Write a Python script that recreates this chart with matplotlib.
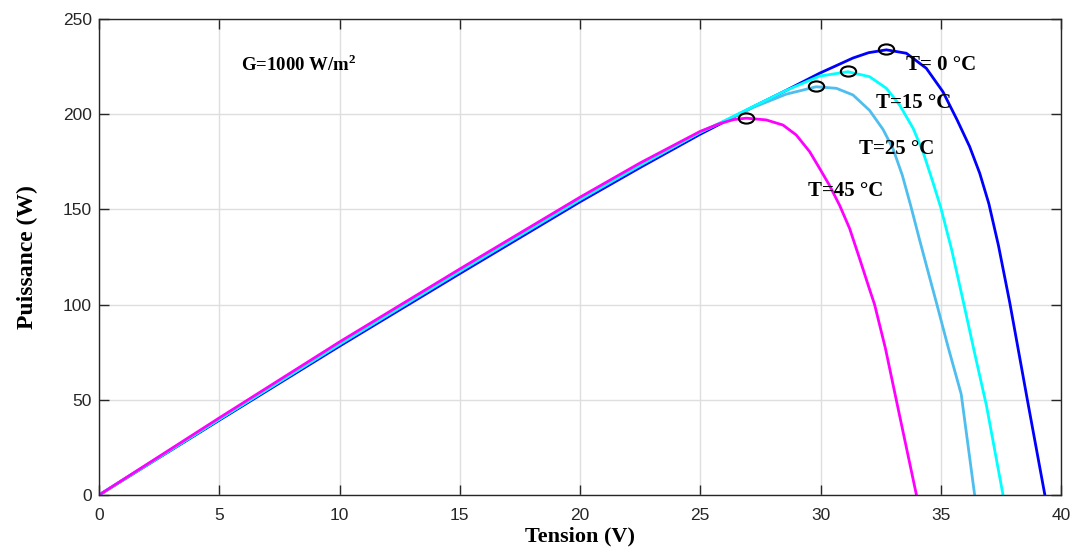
import matplotlib
matplotlib.use("Agg")
import numpy as np
from matplotlib import pyplot as plt
from matplotlib.path import Path

# P-V curves (V in volts, P in watts)
v_t0 = [0, 5, 10, 15, 20, 22.5, 25, 26, 27.19, 28.57, 29.96, 31.35, 32.0, 32.74, 33.57, 34.4, 35.09,
        35.68, 36.2, 36.62, 37.0, 37.4, 37.87, 38.63, 39.33]
p_t0 = [0, 39.3, 78.2, 116.3, 154, 172, 189.5, 196, 203.8, 212.5, 221.5, 229.5, 232.3, 233.8, 232, 224.1, 211.8,
        197, 183, 169, 153, 131, 101, 48, 0]

v_t15 = [0, 5, 10, 15, 20, 22.5, 25, 26, 27.19, 28.57, 29.96, 31.14, 32.04, 32.74, 33.29, 33.85,
         34.26, 34.68, 35.0, 35.45, 35.93, 36.4, 36.9, 37.59]
p_t15 = [0, 39.8, 79.2, 117.5, 155.2, 173.2, 190.5, 196.5, 204, 212.5, 220, 222.3, 219.7, 213.6, 204.8, 192.6,
         180.3, 164, 151, 129, 102, 75, 47, 0]

v_t25 = [0, 5, 10, 15, 20, 22.5, 25, 26, 27.19, 28.57, 29.82, 30.66, 31.35, 32.04, 32.6, 33.01,
         33.4, 33.75, 34.12, 34.5, 34.82, 35.3, 35.85, 36.41]
p_t25 = [0, 39.8, 79.2, 117.5, 155.2, 173.2, 190.5, 196.3, 203.5, 210.5, 214.4, 213.6, 210.1, 202, 192, 182,
         168, 152, 134, 116, 101, 78, 53, 0]

v_t45 = [0, 5, 10, 15, 20, 22.5, 25, 25.8, 26.4, 26.91, 27.74, 28.44, 28.99, 29.55, 29.96, 30.38, 30.8,
         31.21, 31.63, 32.04, 32.25, 32.7, 33.15, 33.99]
p_t45 = [0, 40.5, 80.4, 118.7, 156.4, 174.4, 191, 195, 197.2, 197.9, 197, 194.3, 189.1, 180.3, 171.6, 162.5, 152,
         140, 124, 108, 100, 77, 50, 0]

# maximum power points
mpp_v = [32.74, 31.14, 29.82, 26.91]
mpp_p = [234.2, 222.5, 214.6, 197.8]

labels = ["T= 0 °C", "T=15 °C", "T=25 °C", "T=45 °C"]
label_v = [33.55, 32.3, 31.6, 29.5]
label_p = [226, 206, 181.5, 159.5]

serif = "Liberation Serif"
plt.rcParams["font.family"] = "Liberation Sans"
plt.rcParams["mathtext.fontset"] = "custom"
plt.rcParams["mathtext.bf"] = "Liberation Serif:bold"
plt.rcParams["mathtext.rm"] = "Liberation Serif:bold"

fig = plt.figure(figsize=(10.81, 5.47), dpi=100)
ax = fig.add_axes([0.0916, 0.095, 0.8899, 0.8703])

style = dict(lw=2, solid_joinstyle="round", solid_capstyle="round")
ax.plot(v_t0, p_t0, color="#0000ff", **style)
ax.plot(v_t25, p_t25, color="#4dbeee", **style)
ax.plot(v_t15, p_t15, color="#00ffff", **style)
ax.plot(v_t45, p_t45, color="#ff00ff", **style)

# ellipse-ish marker like the stretched original
circ = Path.unit_circle()
ell = Path(circ.vertices * np.array([1.5, 1.0]), circ.codes)
ax.plot(mpp_v, mpp_p, linestyle="none", marker=ell, markersize=11,
        markerfacecolor="none", markeredgecolor="black", markeredgewidth=1.5)

for lab, x, y in zip(labels, label_v, label_p):
    ax.text(x, y, lab, family=serif, fontweight="bold", fontsize=15, va="center", ha="left")

ax.text(5.9, 226, r"G=1000 W/m$^{\mathbf{2}}$", family=serif, fontweight="bold",
        fontsize=13.5, va="center", ha="left")

ax.set_xlim(0, 40)
ax.set_ylim(0, 250)
ax.set_xticks(np.arange(0, 41, 5))
ax.set_yticks(np.arange(0, 251, 50))
ax.grid(True, color="#dedede", lw=1)
ax.set_axisbelow(True)
ax.tick_params(direction="in", length=7, width=1, color="#262626", labelsize=12.5,
               labelcolor="#262626", top=True, right=True, pad=5)
ax.tick_params(axis="x", pad=9)
for s in ax.spines.values():
    s.set_color("#262626")
    s.set_linewidth(1)

ax.set_xlabel("Tension (V)", family=serif, fontweight="bold", fontsize=16, labelpad=3)
ax.set_ylabel("Puissance (W)", family=serif, fontweight="bold", fontsize=17, labelpad=18)

fig.savefig("out.png", dpi=100)
